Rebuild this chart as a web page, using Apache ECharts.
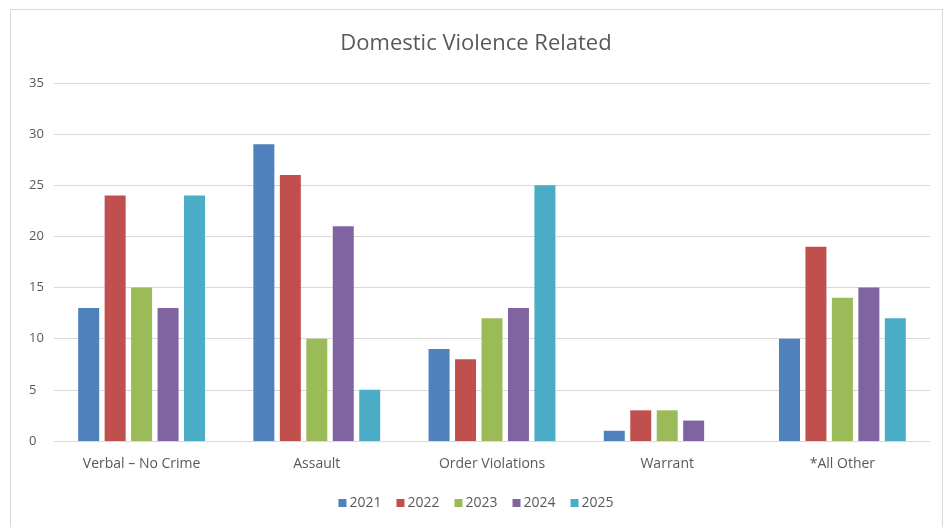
<!DOCTYPE html>
<html><head><meta charset="utf-8">
<script src="https://cdn.jsdelivr.net/npm/echarts@6/dist/echarts.min.js"></script>
<style>html,body{margin:0;padding:0;background:#fff}#frame{position:absolute;left:10px;top:9px;width:933px;height:530px;border:1px solid #d9d9d9;box-sizing:border-box}#c{width:952px;height:527px;position:absolute;left:0;top:0}</style>
</head><body><div id="frame"></div><div id="c"></div>
<script>
const categories = ["Verbal \u2013 No Crime", "Assault", "Order Violations", "Warrant", "*All Other"];
const years = ["2021", "2022", "2023", "2024", "2025"];
const v2021 = [13, 29, 9, 1, 10];
const v2022 = [24, 26, 8, 3, 19];
const v2023 = [15, 10, 12, 3, 14];
const v2024 = [13, 21, 13, 2, 15];
const v2025 = [24, 5, 25, 0, 12];
const yTicks = [0, 5, 10, 15, 20, 25, 30, 35];
const colors = ["#4F81BD", "#C0504D", "#9BBB59", "#8064A2", "#4BACC6"];
const seriesData = [v2021, v2022, v2023, v2024, v2025];
const font = "'Open Sans', 'Liberation Sans', sans-serif";
const chart = echarts.init(document.getElementById('c'), null, {renderer: 'canvas'});
chart.setOption({
  animation: false,
  backgroundColor: 'transparent',
  color: colors,
  title: {text: 'Domestic Violence Related', left: 'center', top: 28,
    textStyle: {fontFamily: font, fontSize: 22, fontWeight: 'normal', color: '#595959'}},
  legend: {bottom: 12, left: 'center', itemWidth: 8, itemHeight: 8, itemGap: 15, icon: 'rect',
    textStyle: {fontFamily: font, fontSize: 14, color: '#595959', padding: [0,0,0,-2]},
    data: years},
  grid: {left: 54, right: 22, top: 83, bottom: 86, containLabel: false},
  xAxis: {type: 'category', data: categories,
    axisLine: {lineStyle: {color: '#d9d9d9'}}, axisTick: {show: false},
    axisLabel: {fontFamily: font, fontSize: 14, color: '#595959', margin: 16}},
  yAxis: {type: 'value', min: yTicks[0], max: yTicks[yTicks.length-1], interval: 5,
    axisLine: {show: false}, axisTick: {show: false},
    splitLine: {lineStyle: {color: '#d9d9d9'}},
    axisLabel: {fontFamily: font, fontSize: 13, color: '#595959', margin: 25, align: 'left'}},
  series: years.map((y, i) => ({name: y, type: 'bar', data: seriesData[i], barWidth: 21, barGap: '26%'}))
});
</script></body></html>
